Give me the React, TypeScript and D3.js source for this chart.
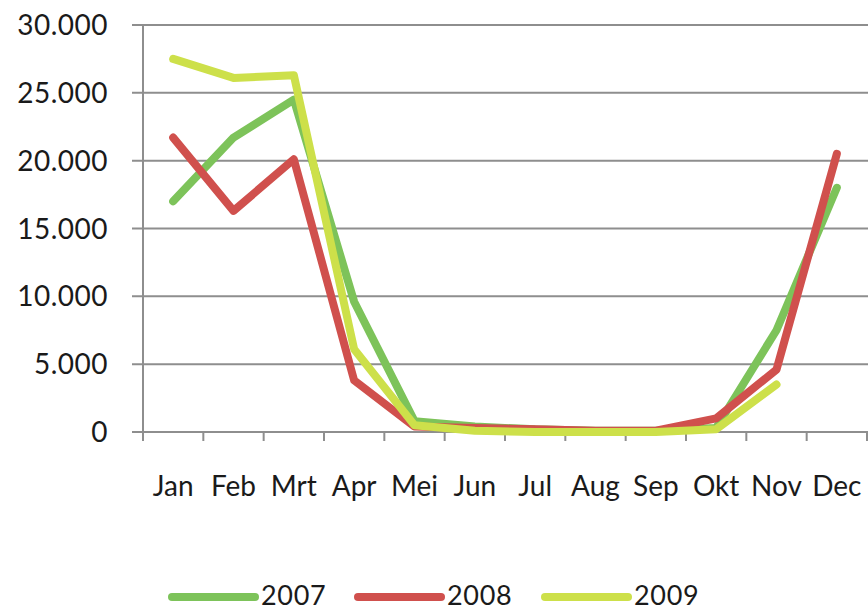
import React, { useEffect, useRef } from 'react';
import * as d3 from 'd3';

const months = ['Jan', 'Feb', 'Mrt', 'Apr', 'Mei', 'Jun', 'Jul', 'Aug', 'Sep', 'Okt', 'Nov', 'Dec'];
const years = ['2007', '2008', '2009'];
const values2007 = [17000, 21700, 24500, 9600, 800, 400, 200, 100, 100, 300, 7500, 18000];
const values2008 = [21700, 16300, 20100, 3800, 400, 300, 200, 100, 100, 1000, 4600, 20500];
const values2009: (number | null)[] = [27500, 26100, 26300, 6100, 500, 100, 0, 0, 0, 200, 3500, null];
const yTicks = [0, 5000, 10000, 15000, 20000, 25000, 30000];
const colors = ['#7dc35a', '#d0504d', '#cde04a'];

const W = 868;
const H = 612;
const FONT = 'Lato, "Open Sans", sans-serif';

export default function App() {
  const svgRef = useRef<SVGSVGElement>(null);

  useEffect(() => {
    const svg = d3.select(svgRef.current);
    svg.selectAll('*').remove();

    const left = 143;
    const right = 867;
    const top = 25;
    const bottom = 432;

    const x = d3.scaleBand().domain(months).range([left, right]);
    const y = d3.scaleLinear().domain([0, 30000]).range([bottom, top]);

    // gridlines + labels
    svg
      .selectAll('.grid')
      .data(yTicks)
      .join('line')
      .attr('class', 'grid')
      .attr('x1', left - 11)
      .attr('x2', W)
      .attr('y1', (d) => y(d))
      .attr('y2', (d) => y(d))
      .attr('stroke', '#8e8e8e')
      .attr('stroke-width', 2);

    svg
      .selectAll('.ylab')
      .data(yTicks)
      .join('text')
      .attr('class', 'ylab')
      .attr('x', 108)
      .attr('y', (d) => y(d))
      .attr('dy', '0.36em')
      .attr('text-anchor', 'end')
      .style('font-family', FONT)
      .style('font-size', '28px')
      .style('letter-spacing', '0.5px')
      .attr('fill', '#1a1a1a')
      .text((d) => d3.format(',')(d).replace(/,/g, '.'));

    // y axis line
    svg
      .append('line')
      .attr('x1', left)
      .attr('x2', left)
      .attr('y1', top)
      .attr('y2', bottom + 9)
      .attr('stroke', '#8e8e8e')
      .attr('stroke-width', 2);

    // x ticks
    const tickPos = months.map((m) => x(m)!).concat([right]);
    svg
      .selectAll('.xtick')
      .data(tickPos.slice(1))
      .join('line')
      .attr('class', 'xtick')
      .attr('x1', (d) => d)
      .attr('x2', (d) => d)
      .attr('y1', bottom)
      .attr('y2', bottom + 9)
      .attr('stroke', '#8e8e8e')
      .attr('stroke-width', 2);

    svg
      .selectAll('.xlab')
      .data(months)
      .join('text')
      .attr('class', 'xlab')
      .attr('x', (d) => x(d)! + x.bandwidth() / 2)
      .attr('y', 496)
      .attr('text-anchor', 'middle')
      .style('font-family', FONT)
      .style('font-size', '28px')
      .attr('fill', '#1a1a1a')
      .text((d) => d);

    // lines
    const series = [values2007, values2008, values2009];
    const line = d3
      .line<number | null>()
      .defined((d) => d !== null)
      .x((_, i) => x(months[i])! + x.bandwidth() / 2)
      .y((d) => y(d as number));

    series.forEach((s, i) => {
      svg
        .append('path')
        .datum(s)
        .attr('d', line)
        .attr('fill', 'none')
        .attr('stroke', colors[i])
        .attr('stroke-width', 8)
        .attr('stroke-linejoin', 'round')
        .attr('stroke-linecap', 'round');
    });

    // legend
    const legendX = [172, 358, 545];
    years.forEach((yr, i) => {
      svg
        .append('line')
        .attr('x1', legendX[i])
        .attr('x2', legendX[i] + 83)
        .attr('y1', 597)
        .attr('y2', 597)
        .attr('stroke', colors[i])
        .attr('stroke-width', 8)
        .attr('stroke-linecap', 'round');
      svg
        .append('text')
        .attr('x', legendX[i] + 89)
        .attr('y', 605)
        .style('font-family', FONT)
        .style('font-size', '27px')
        .style('letter-spacing', '0.7px')
        .attr('fill', '#1a1a1a')
        .text(yr);
    });
  }, []);

  return (
    <svg
      ref={svgRef}
      width={W}
      height={H}
      style={{ position: 'absolute', left: 0, top: 0, background: '#fff' }}
    />
  );
}
